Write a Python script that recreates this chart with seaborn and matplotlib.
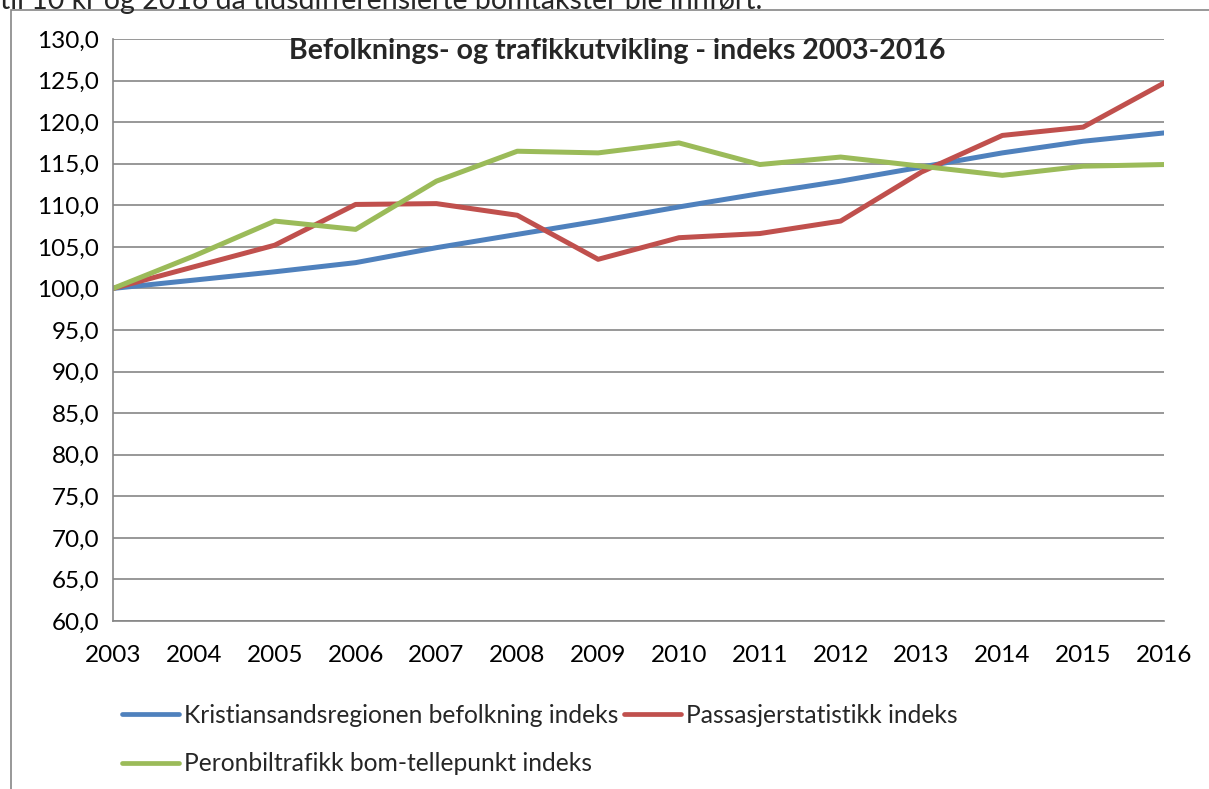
import pandas as pd
import matplotlib.pyplot as plt
import matplotlib.ticker as mticker
from matplotlib.patches import Rectangle
import seaborn as sns

years = list(range(2003, 2017))
befolkning = [100.0, 101.0, 102.0, 103.1, 104.9, 106.5, 108.1, 109.8, 111.4, 112.9, 114.6, 116.3, 117.7, 118.7]
passasjer = [100.0, 102.6, 105.2, 110.1, 110.2, 108.8, 103.5, 106.1, 106.6, 108.1, 114.0, 118.4, 119.4, 124.7]
personbil = [100.0, 103.9, 108.1, 107.1, 112.9, 116.5, 116.3, 117.5, 114.9, 115.8, 114.7, 113.6, 114.7, 114.9]

series_names = ['Kristiansandsregionen befolkning indeks',
                'Passasjerstatistikk indeks',
                'Peronbiltrafikk bom-tellepunkt indeks']
colors = ['#4F81BD', '#C0504D', '#9BBB59']

df = pd.DataFrame({
    'År': years * 3,
    'Indeks': befolkning + passasjer + personbil,
    'Serie': [series_names[0]] * len(years) + [series_names[1]] * len(years) + [series_names[2]] * len(years),
})

sns.set_style('white')
plt.rcParams['font.family'] = ['Lato', 'DejaVu Sans']

fig = plt.figure(figsize=(12.09, 7.89), dpi=100)
ax = fig.add_axes([0.0935, 0.2129, 0.8693, 0.7377])

sns.lineplot(data=df, x='År', y='Indeks', hue='Serie', hue_order=series_names,
             palette=colors, linewidth=3.6, ax=ax, legend=False)
for ln in ax.get_lines():
    ln.set_solid_capstyle('round')
    ln.set_solid_joinstyle('round')

ax.set_xlim(2003, 2016)
ax.set_ylim(60, 130)
ax.set_xticks(years)
ax.set_yticks(range(60, 131, 5))
ax.yaxis.set_major_formatter(mticker.FuncFormatter(lambda v, p: f'{v:.1f}'.replace('.', ',')))
ax.grid(axis='y', color='#868686', linewidth=1.2)
ax.set_axisbelow(True)
for s in ['top', 'right']:
    ax.spines[s].set_visible(False)
for s in ['left', 'bottom']:
    ax.spines[s].set_color('#868686')
    ax.spines[s].set_linewidth(1.2)
ax.tick_params(axis='both', direction='out', length=5, width=1.2, color='#868686',
               labelsize=17.5, labelcolor='black')
ax.tick_params(axis='x', pad=12)
ax.tick_params(axis='y', pad=5)
ax.set_xlabel('')
ax.set_ylabel('')

ax.text(0.48, 0.979, 'Befolknings- og trafikkutvikling - indeks 2003-2016',
        transform=ax.transAxes, ha='center', va='center', fontsize=20.5, fontweight='bold')

lines = ax.get_lines()
handles = [lines[0], lines[2], lines[1]]
labels = [series_names[0], series_names[2], series_names[1]]
leg = fig.legend(handles, labels, ncol=2, loc='upper left', bbox_to_anchor=(0.101, 0.108),
                 frameon=False, fontsize=17.7, handlelength=2.3, handletextpad=0.2,
                 columnspacing=0.25, labelspacing=1.03, borderaxespad=0, borderpad=0)
for h in leg.legend_handles:
    h.set_linewidth(3.4)
    h.set_solid_capstyle('round')

fig.patches.append(Rectangle((0.0087, -0.05), 1.1, 1.0373, transform=fig.transFigure,
                             fill=False, edgecolor='#868686', linewidth=1.2, figure=fig))

fig.text(0.0, 1 - 9 / 789, 'til 10 kr og 2016 da tidsdifferensierte bomtakster ble innført.',
         ha='left', va='baseline', fontsize=20.5)

fig.savefig('out.png', dpi=100)
